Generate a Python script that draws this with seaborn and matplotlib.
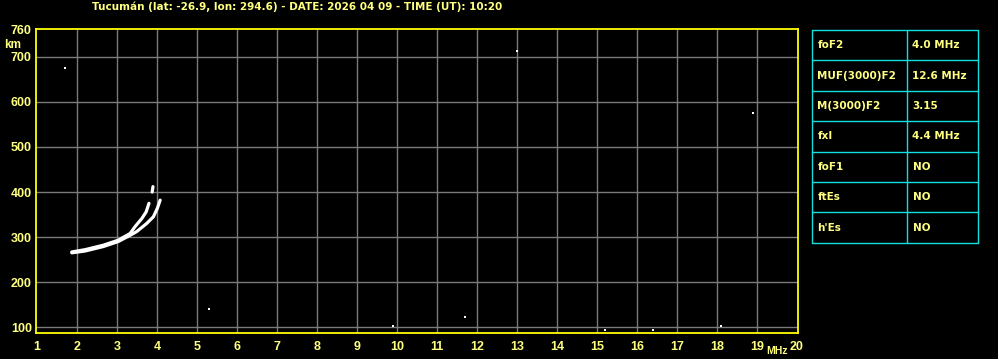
import matplotlib
matplotlib.use("Agg")
import matplotlib.pyplot as plt
import seaborn as sns
import pandas as pd

# ---- data ----
title = "Tucumán (lat: -26.9, lon: 294.6) - DATE: 2026 04 09 - TIME (UT): 10:20"
freq_ticks = list(range(1, 21))
height_ticks = [100, 200, 300, 400, 500, 600, 700, 760]

o_freq = [1.87, 2.2, 2.66, 3.03, 3.33, 3.45, 3.62, 3.73, 3.80]
o_height = [267, 272, 282, 293, 308, 323, 341, 356, 375]
o2_freq = [3.88, 3.90]
o2_height = [400, 412]
x_freq = [1.87, 2.2, 2.66, 3.03, 3.33, 3.49, 3.74, 3.91, 4.01, 4.08]
x_height = [265, 269, 279, 290, 304, 312, 330, 345, 364, 382]

# isolated bright echoes
dot_freq = [5.3, 9.9, 11.7, 15.2, 16.4, 18.1, 1.7, 13.0, 18.9]
dot_height = [140, 103, 123, 93, 93, 103, 675, 713, 575]

table_params = ["foF2", "MUF(3000)F2", "M(3000)F2", "fxI", "foF1", "ftEs", "h'Es"]
table_values = ["4.0 MHz", "12.6 MHz", "3.15", "4.4 MHz", "NO", "NO", "NO"]

traces = pd.concat([
    pd.DataFrame({"f": o_freq, "h": o_height, "mode": "O"}),
    pd.DataFrame({"f": o2_freq, "h": o2_height, "mode": "O2"}),
    pd.DataFrame({"f": x_freq, "h": x_height, "mode": "X"}),
], ignore_index=True)
dots = pd.DataFrame({"f": dot_freq, "h": dot_height})

# ---- style ----
sns.set_theme(style="dark")
plt.rcParams["font.family"] = ["Liberation Sans", "DejaVu Sans"]
plt.rcParams["font.weight"] = "bold"

W, H = 998, 359
fig = plt.figure(figsize=(W / 100, H / 100), dpi=100, facecolor="black")
ax = fig.add_axes([36 / W, (H - 333) / H, (798 - 36) / W, (333 - 29) / H])
ax.set_facecolor("black")

YEL = "#ffff80"
GRID = "#7a7a7a"

for f in freq_ticks[1:-1]:
    ax.axvline(f, color=GRID, lw=1.0, zorder=1)
for hh in height_ticks[:-1]:
    ax.axhline(hh, color=GRID, lw=1.0, zorder=1)

sns.lineplot(data=traces, x="f", y="h", units="mode", estimator=None, sort=False,
             color="white", lw=2.3, ax=ax, zorder=3, legend=False)
sns.scatterplot(data=dots, x="f", y="h", color="white", marker="s", s=3,
                linewidth=0, ax=ax, zorder=3, legend=False)

ax.set_xlim(0.975, 20.03)
ax.set_ylim(87, 762)
ax.set_xticks(freq_ticks)
ax.set_xticklabels([str(t) for t in freq_ticks])
ax.set_yticks(height_ticks)
ax.grid(False)
ax.tick_params(length=0, colors=YEL, labelsize=9)
ax.tick_params(axis="x", pad=6)
ax.tick_params(axis="y", pad=3)
for lab in ax.get_xticklabels() + ax.get_yticklabels():
    lab.set_fontweight("bold")
    lab.set_color(YEL)
ax.set_xlabel("")
ax.set_ylabel("")
for sp in ax.spines.values():
    sp.set_visible(True)
    sp.set_color("#ffff00")
    sp.set_linewidth(1.3)

DJ = ["DejaVu Sans"]
fig.text(92 / W, 1 - 7 / H, title, color=YEL, fontsize=7.5, fontweight="bold",
         family=DJ, ha="left", va="center")
fig.text(13 / W, 1 - 45 / H, "km", color=YEL, fontsize=8.5, fontweight="bold",
         ha="center", va="center")
fig.text(777 / W, 1 - 351 / H, "MHz", color=YEL, fontsize=7.5, fontweight="bold",
         ha="center", va="center")

# ---- table ----
tx0, tx1, txm = 812.3, 977.7, 907.3
ty0, ty1 = 30, 242.7
n = len(table_params)
rh = (ty1 - ty0) / n
CYAN = "#10e0e0"
for i in range(n + 1):
    y = 1 - (ty0 + i * rh) / H
    fig.add_artist(plt.Line2D([tx0 / W, tx1 / W], [y, y], color=CYAN, lw=1.0))
for xx in (tx0, txm, tx1):
    fig.add_artist(plt.Line2D([xx / W, xx / W], [1 - ty0 / H, 1 - ty1 / H], color=CYAN, lw=1.0))
for i, (p, v) in enumerate(zip(table_params, table_values)):
    yc = 1 - (ty0 + (i + 0.5) * rh) / H
    fig.text(817.5 / W, yc, p, color=YEL, fontsize=7.5, fontweight="bold", family=DJ,
             ha="left", va="center")
    fig.text(912.5 / W, yc, v, color=YEL, fontsize=7.5, fontweight="bold", family=DJ,
             ha="left", va="center")

fig.savefig("out.png", dpi=100, facecolor="black")
